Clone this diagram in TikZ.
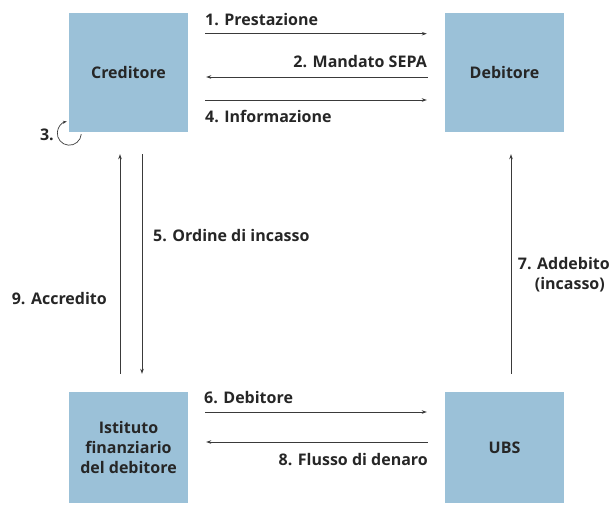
\documentclass[tikz,border=0pt]{standalone}
\usepackage{fontspec}
\setmainfont{Open Sans}
\usetikzlibrary{arrows.meta,positioning}
\definecolor{boxblue}{HTML}{9BC1D8}
\definecolor{txt}{HTML}{262626}
\definecolor{linecol}{HTML}{3A3A3A}
\tikzset{
	party/.style={fill=boxblue, minimum width=119pt, minimum height=119pt, inner sep=0pt, align=center, font=\fontsize{16}{20}\selectfont\bfseries, text=txt},
	bank/.style={party, minimum height=111pt},
	lbl/.style={inner sep=0pt, font=\fontsize{16}{20}\selectfont\bfseries, text=txt},
	flow/.style={draw=linecol, line width=0.8pt, -{Stealth[length=5pt,width=3.5pt]}, shorten >=18pt, shorten <=17pt},
}
\begin{document}
\begin{tikzpicture}[x=1pt,y=-1pt]
			\useasboundingbox (0,0) rectangle (616,504);

			\node[party] (cred) at (128.5,72.5) {Creditore};
			\node[party] (deb) at (504.5,72.5) {Debitore};
			\node[bank] (inst) at (128.5,447.5) {Istituto\\finanziario\\del debitore};
			\node[bank] (ubs) at (504.5,447.5) {UBS};

			% Creditore <-> Debitore
			\draw[flow] ([yshift=38.8pt]cred.east) -- ([yshift=38.8pt]deb.west);
			\draw[flow] ([yshift=-4.5pt]deb.west) -- ([yshift=-4.5pt]cred.east);
			\draw[flow] ([yshift=-27.5pt]cred.east) -- ([yshift=-27.5pt]deb.west);
			\node[lbl, anchor=west] (l1) at (205,20) {1. Prestazione};
			\node[lbl, anchor=east] (l2) at (427,62) {2. Mandato SEPA};
			\node[lbl, anchor=west] (l4) at (205,116) {4. Informazione};

			% 3.
			\draw[linecol, line width=0.7pt, -{Stealth[length=4pt,width=3pt]}] (cred.south west) ++(0.5,1) ++(5:12) arc[start angle=5, end angle=258, radius=12];
			\node[lbl, anchor=east] (l3) at (54,135) {3.};

			% vertical flows
			\draw[flow, shorten >=22pt, shorten <=18pt] ([xshift=-8.5pt]inst.north) coordinate (a9) (a9) -- (a9 |- cred.south);
			\draw[flow, shorten >=18pt, shorten <=22pt] ([xshift=13.5pt]cred.south) coordinate (a5) (a5) -- (a5 |- inst.north);
			\draw[flow, shorten >=22pt, shorten <=18pt] ([xshift=6.5pt]ubs.north) coordinate (a7) (a7) -- (a7 |- deb.south);
			\node[lbl, anchor=west] (l5) at (153,236) {5. Ordine di incasso};
			\node[lbl, anchor=east] (l9) at (107,299) {9. Accredito};
			\node[lbl, anchor=east, align=right] (l7) at (610,275) {7. Addebito\\(incasso)\hspace*{5pt}};

			% Istituto <-> UBS
			\draw[flow] ([yshift=35.5pt]inst.east) -- ([yshift=35.5pt]ubs.west);
			\draw[flow] ([yshift=5.5pt]ubs.west) -- ([yshift=5.5pt]inst.east);
			\node[lbl, anchor=west] (l6) at (204,398) {6. Debitore};
			\node[lbl, anchor=east] (l8) at (428,460) {8. Flusso di denaro};
\end{tikzpicture}
\end{document}
